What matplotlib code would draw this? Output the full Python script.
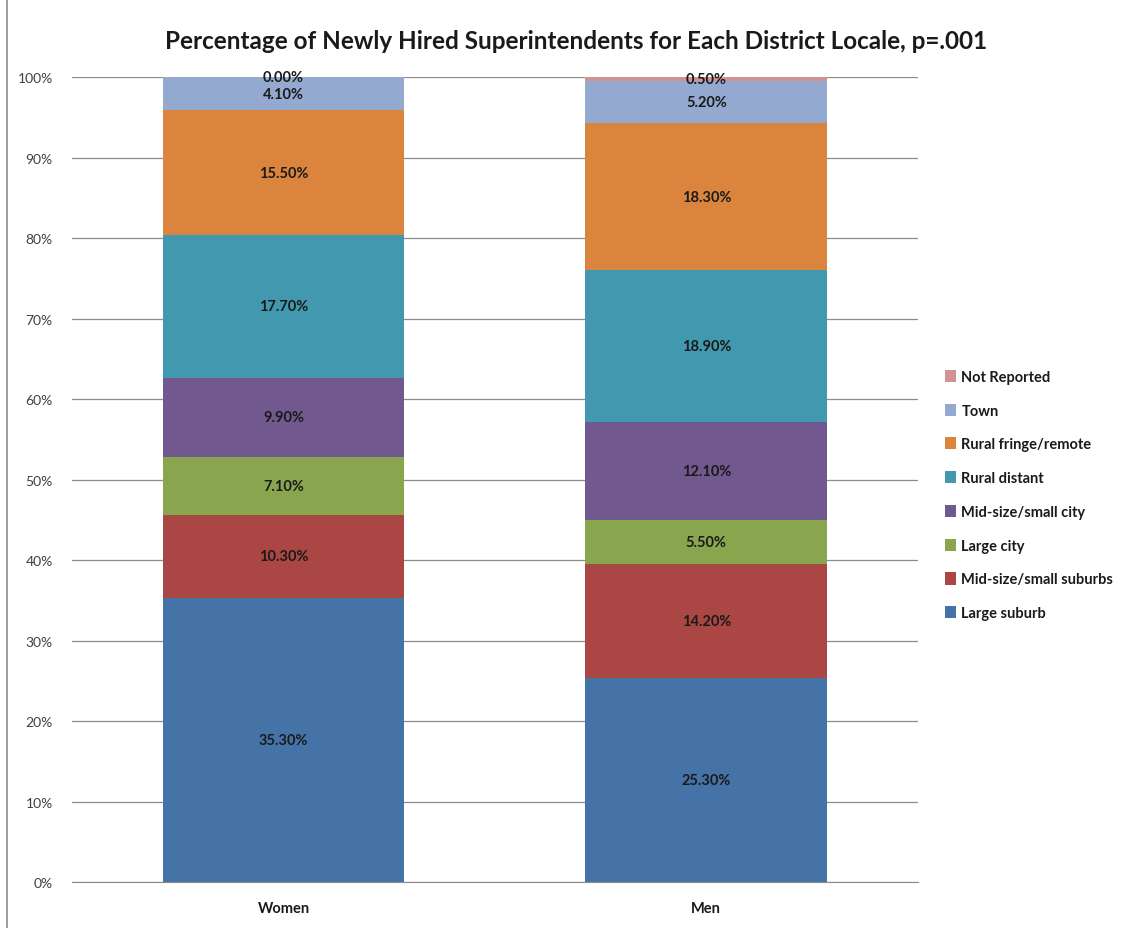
import numpy as np
import matplotlib.pyplot as plt

plt.rcParams['font.family'] = ['Lato', 'DejaVu Sans']

groups = ['Women', 'Men']
locales = ['Large suburb', 'Mid-size/small suburbs', 'Large city', 'Mid-size/small city',
           'Rural distant', 'Rural fringe/remote', 'Town', 'Not Reported']
women = [35.3, 10.3, 7.1, 9.9, 17.7, 15.5, 4.1, 0.0]
men = [25.3, 14.2, 5.5, 12.1, 18.9, 18.3, 5.2, 0.5]
colors = ['#4572A7', '#AA4643', '#89A54E', '#71588F', '#4198AF', '#DB843D', '#93A9CF', '#D19392']

vals = np.array([women, men]).T  # rows: locales, cols: groups
shares = vals / vals.sum(axis=0) * 100  # 100% stacked like Excel

fig = plt.figure(figsize=(11.26, 9.29), dpi=100)
ax = fig.add_axes([0.064, 0.0495, 0.751, 0.8665])

x = np.arange(len(groups))
bottom = np.zeros(len(groups))
handles = []
for i, name in enumerate(locales):
    b = ax.bar(x, shares[i], 0.572, bottom=bottom, color=colors[i], label=name, zorder=2)
    handles.append(b)
    for j in range(len(groups)):
        ax.text(x[j], bottom[j] + shares[i][j] / 2, f'{vals[i][j]:.2f}%',
                ha='center', va='center', fontsize=10.5, fontweight='bold', color='#1a1a1a', zorder=3)
    bottom += shares[i]

ax.set_xlim(-0.5, 1.5)
ax.set_ylim(0, 100)
ax.set_yticks(np.arange(0, 101, 10))
ax.set_yticklabels([f'{v}%' for v in range(0, 101, 10)], fontsize=10, color='#404040')
ax.set_xticks(x)
ax.set_xticklabels(groups, fontsize=10.5, fontweight='bold', color='#1a1a1a')
ax.tick_params(axis='x', length=0, pad=14)
ax.tick_params(axis='y', length=0, pad=14)
ax.grid(axis='y', color='#8c8c8c', linewidth=0.9, zorder=0)
for s in ['top', 'right', 'left']:
    ax.spines[s].set_visible(False)
ax.spines['bottom'].set_color('#8c8c8c')

fig.text(0.512, 0.955, 'Percentage of Newly Hired Superintendents for Each District Locale, p=.001',
         ha='center', va='center', fontsize=17.5, fontweight='bold', color='#1a1a1a')

leg = fig.legend(handles[::-1], locales[::-1], loc='upper left', bbox_to_anchor=(0.828, 0.615),
                 frameon=False, fontsize=10.5, labelspacing=1.35, handlelength=0.7,
                 handleheight=0.9, handletextpad=0.4)
for t in leg.get_texts():
    t.set_fontweight('bold')
    t.set_color('#1a1a1a')

fig.add_artist(plt.Line2D([0.006, 0.006], [0.0, 1.0], color='#8c8c8c', linewidth=1.2,
                          transform=fig.transFigure))

fig.savefig('out.png', dpi=100)
